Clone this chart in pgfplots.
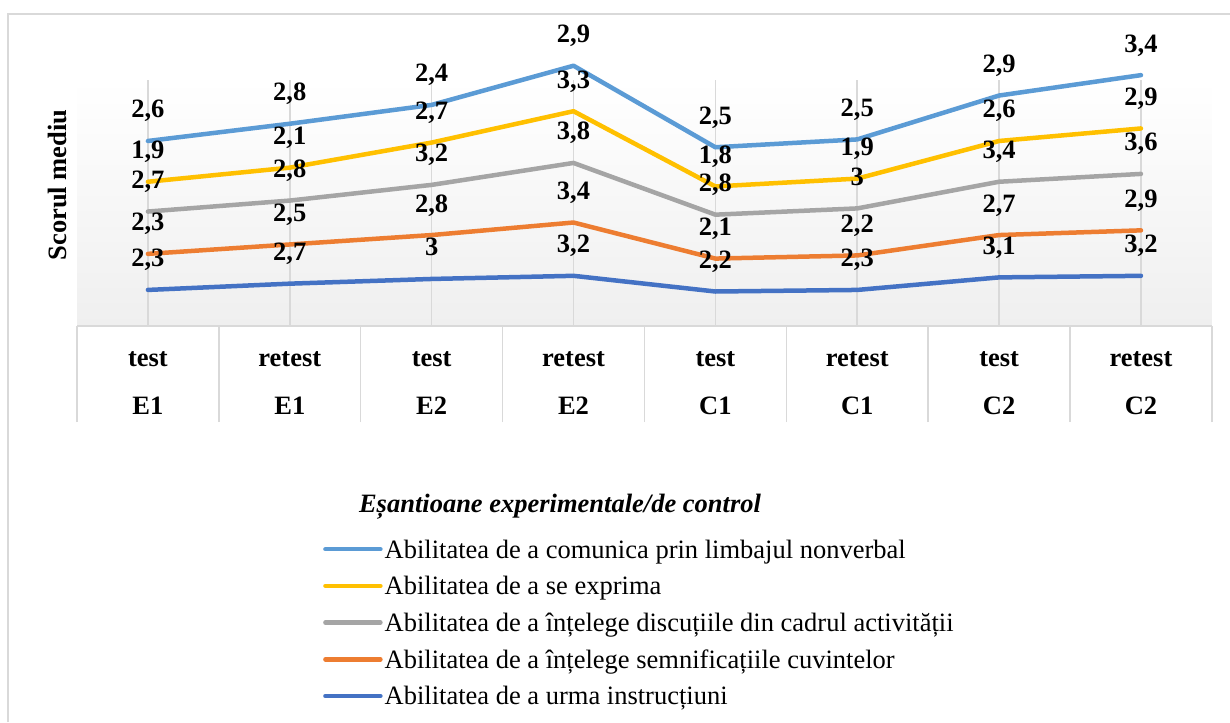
\documentclass[border=0pt]{standalone}
\usepackage{fontspec}
\setmainfont{Liberation Serif}
\usepackage{pgfplots}
\usepackage{pgfplotstable}
\pgfplotsset{compat=1.18}
\definecolor{cLB}{HTML}{5B9BD5}
\definecolor{cYE}{HTML}{FFC000}
\definecolor{cGR}{HTML}{A5A5A5}
\definecolor{cOR}{HTML}{ED7D31}
\definecolor{cDB}{HTML}{4472C4}
\definecolor{cGrid}{HTML}{D9D9D9}
\definecolor{cBg}{HTML}{EFEFEF}
\pgfplotstableread{
x a b c d e
0 2.3 2.3 2.7 1.9 2.6
1 2.7 2.5 2.8 2.1 2.8
2 3.0 2.8 3.2 2.7 2.4
3 3.2 3.4 3.8 3.3 2.9
4 2.2 2.1 2.8 1.8 2.5
5 2.3 2.2 3.0 1.9 2.5
6 3.1 2.7 3.4 2.6 2.9
7 3.2 2.9 3.6 2.9 3.4
}\data
\begin{document}
\begin{tikzpicture}
\useasboundingbox (0pt,0pt) rectangle (1230pt,722pt);
\fill[white] (0pt,0pt) rectangle (1230pt,722pt);
\draw[cGrid, line width=1.5pt] (8pt,0pt) -- (8pt,708pt) -- (1230pt,708pt);
\begin{axis}[
  at={(77pt,396pt)}, anchor=south west,
  width=1135pt, height=246pt, scale only axis,
  xmin=-0.5, xmax=7.5, ymin=0, ymax=15.69,
  clip=false,
  stack plots=y,
  axis x line*=bottom, axis y line=none,
  ytick=\empty,
  axis background/.style={top color=white, bottom color=cBg},
  axis line style={cGrid, line width=1.5pt},
  xmajorgrids=true,
  major grid style={cGrid, line width=1.5pt},
  xtick={0,...,7},
  major tick length=0pt,
  xticklabels={{test\\E1},{retest\\E1},{test\\E2},{retest\\E2},{test\\C1},{retest\\C1},{test\\C2},{retest\\C2}},
  xticklabel style={align=center, anchor=north, inner sep=0pt, yshift=-25pt, font=\bfseries\fontsize{26.5}{48}\selectfont},
  extra x ticks={-0.5,0.5,...,7.5},
  extra x tick labels={},
  extra x tick style={grid=none, tick align=outside, major tick length=96pt, tick style={cGrid, line width=1.5pt}},
  /pgf/number format/use comma,
  /pgf/number format/fixed,
  /pgf/number format/precision=1,
  /pgf/number format/assume math mode=true,
  point meta=explicit,
  nodes near coords,
  every node near coord/.append style={anchor=base, yshift=23pt, inner sep=0pt, text=black, font=\bfseries\fontsize{26.5}{30}\selectfont},
  every axis plot/.append style={line width=4.5pt, line cap=round, line join=round},
  reverse legend,
  legend image code/.code={\draw[#1, line width=4.5pt, line cap=round] (0pt,9pt) -- (55pt,9pt);},
  legend style={at={(axis description cs:0.21674,-0.8699)}, anchor=north west, draw=none, fill=none, inner sep=0pt, row sep=12.7pt, column sep=2pt, nodes={inner sep=0pt, text height=18pt, text depth=6pt, anchor=base west}, font=\fontsize{26.5}{32}\selectfont},
]
\addplot[cDB] table[x=x, y=a, meta=a]{\data};
\addlegendentry{Abilitatea de a urma instrucțiuni}
\addplot[cOR] table[x=x, y=b, meta=b]{\data};
\addlegendentry{Abilitatea de a înțelege semnificațiile cuvintelor}
\addplot[cGR] table[x=x, y=c, meta=c]{\data};
\addlegendentry{Abilitatea de a înțelege discuțiile din cadrul activității}
\addplot[cYE] table[x=x, y=d, meta=d]{\data};
\addlegendentry{Abilitatea de a se exprima}
\addplot[cLB] table[x=x, y=e, meta=e]{\data};
\addlegendentry{Abilitatea de a comunica prin limbajul nonverbal}
\end{axis}
\node[anchor=base, font=\bfseries\itshape\fontsize{26.5}{30}\selectfont] at (560pt,209pt) {Eșantioane experimentale/de control};
\node[rotate=90, font=\bfseries\fontsize{26.5}{30}\selectfont] at (57pt,537pt) {Scorul mediu};
\end{tikzpicture}
\end{document}
